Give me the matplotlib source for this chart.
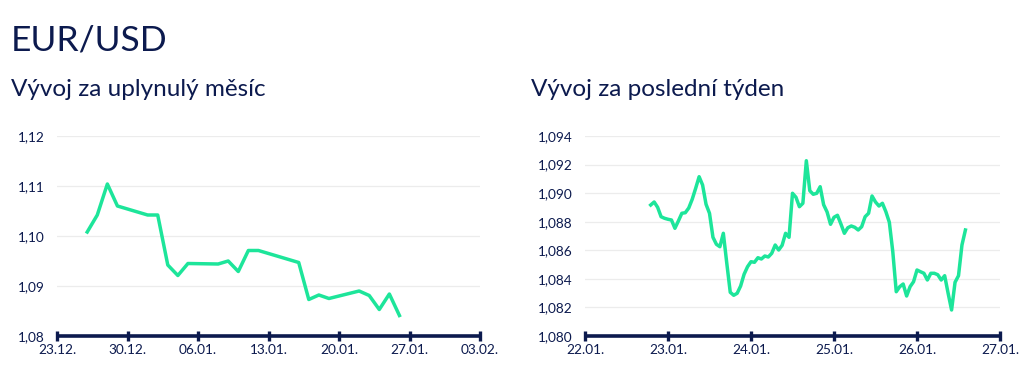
import pandas as pd
import matplotlib.pyplot as plt
import matplotlib.dates as mdates

plt.rcParams['font.family'] = ['Lato', 'DejaVu Sans']

NAVY = "#0c1a4e"
GREEN = "#1de59a"
GRID = "#ececec"

# month chart: daily EUR/USD
month_dates = ["2023-12-26", "2023-12-27", "2023-12-28", "2023-12-29",
               "2024-01-01", "2024-01-02", "2024-01-03", "2024-01-04", "2024-01-05",
               "2024-01-08", "2024-01-09", "2024-01-10", "2024-01-11", "2024-01-12",
               "2024-01-16", "2024-01-17", "2024-01-18", "2024-01-19",
               "2024-01-22", "2024-01-23", "2024-01-24", "2024-01-25", "2024-01-26"]
month_values = [1.1008, 1.1042, 1.1104, 1.1060,
                1.1042, 1.1042, 1.0942, 1.0921, 1.0945,
                1.0944, 1.0950, 1.0929, 1.0971, 1.0971,
                1.0947, 1.0873, 1.0882, 1.0875,
                1.0890, 1.0881, 1.0853, 1.0884, 1.0841]
month_ticks = ["2023-12-23", "2023-12-30", "2024-01-06", "2024-01-13",
               "2024-01-20", "2024-01-27", "2024-02-03"]
month_yticks = [1.08, 1.09, 1.10, 1.11, 1.12]

# week chart: hourly EUR/USD starting 22.01. 19:00
week_start = "2024-01-22 19:00"
week_values = [1.08917, 1.08938, 1.08901, 1.08835, 1.08824, 1.08817, 1.08812, 1.08754,
               1.08805, 1.08859, 1.08863, 1.08896, 1.08957, 1.09034, 1.09115, 1.09057,
               1.08922, 1.08859, 1.08691, 1.08642, 1.08625, 1.08719, 1.08509, 1.08306,
               1.08285, 1.08299, 1.08350, 1.08432, 1.08485, 1.08520, 1.08516, 1.08548,
               1.08539, 1.08560, 1.08553, 1.08579, 1.08637, 1.08602, 1.08635, 1.08719,
               1.08691, 1.08999, 1.08971, 1.08905, 1.08929, 1.09227, 1.09017, 1.08992,
               1.08999, 1.09045, 1.08919, 1.08868, 1.08782, 1.08831, 1.08845, 1.08784,
               1.08719, 1.08758, 1.08770, 1.08761, 1.08742, 1.08765, 1.08835, 1.08859,
               1.08980, 1.08938, 1.08910, 1.08929, 1.08870, 1.08796, 1.08590, 1.08310,
               1.08345, 1.08364, 1.08280, 1.08345, 1.08380, 1.08462, 1.08450, 1.08439,
               1.08392, 1.08439, 1.08439, 1.08429, 1.08392, 1.08422, 1.08299, 1.08182,
               1.08376, 1.08422, 1.08637, 1.08742]
week_ticks = ["2024-01-22", "2024-01-23", "2024-01-24", "2024-01-25",
              "2024-01-26", "2024-01-27"]
week_yticks = [1.080, 1.082, 1.084, 1.086, 1.088, 1.090, 1.092, 1.094]

W, H = 1034, 381
fig = plt.figure(figsize=(W / 100, H / 100), dpi=100)

fig.text(11 / W, 1 - 40 / H, "EUR/USD", fontsize=25.5, color=NAVY, va="center")
fig.text(11 / W, 1 - 90 / H, "Vývoj za uplynulý měsíc", fontsize=17.5, color=NAVY, va="center")
fig.text(531 / W, 1 - 90 / H, "Vývoj za poslední týden", fontsize=17.5, color=NAVY, va="center")


def style(ax, ticks, yticks, yfmt):
    ticks = pd.to_datetime(ticks)
    ax.set_xlim(ticks[0], ticks[-1])
    ax.set_ylim(yticks[0], yticks[-1])
    ax.set_xticks(ticks)
    ax.set_xticklabels([t.strftime("%d.%m.") for t in ticks])
    ax.set_yticks(yticks)
    ax.set_yticklabels([yfmt.format(v).replace(".", ",") for v in yticks])
    for s in ["top", "right", "left"]:
        ax.spines[s].set_visible(False)
    ax.spines["bottom"].set_color(NAVY)
    ax.spines["bottom"].set_linewidth(2.6)
    ax.spines["bottom"].set_capstyle("butt")
    ax.grid(axis="y", color=GRID, linewidth=0.9)
    ax.set_axisbelow(True)
    ax.tick_params(axis="x", direction="inout", length=7, width=2.4, color=NAVY,
                   labelcolor=NAVY, labelsize=9.8, pad=2)
    ax.tick_params(axis="y", length=0, labelcolor=NAVY, labelsize=9.8, pad=9)


ax1 = fig.add_axes([57 / W, 45 / H, 423 / W, 200 / H])
ax1.plot(pd.to_datetime(month_dates), month_values, color=GREEN, linewidth=2.5,
         solid_joinstyle="round", clip_on=False)
style(ax1, month_ticks, month_yticks, "{:.2f}")

ax2 = fig.add_axes([585 / W, 45 / H, 415 / W, 200 / H])
week_times = pd.date_range(week_start, periods=len(week_values), freq="h")
ax2.plot(week_times, week_values, color=GREEN, linewidth=2.5,
         solid_joinstyle="round", clip_on=False)
style(ax2, week_ticks, week_yticks, "{:.3f}")

fig.savefig("out.png", dpi=100)
